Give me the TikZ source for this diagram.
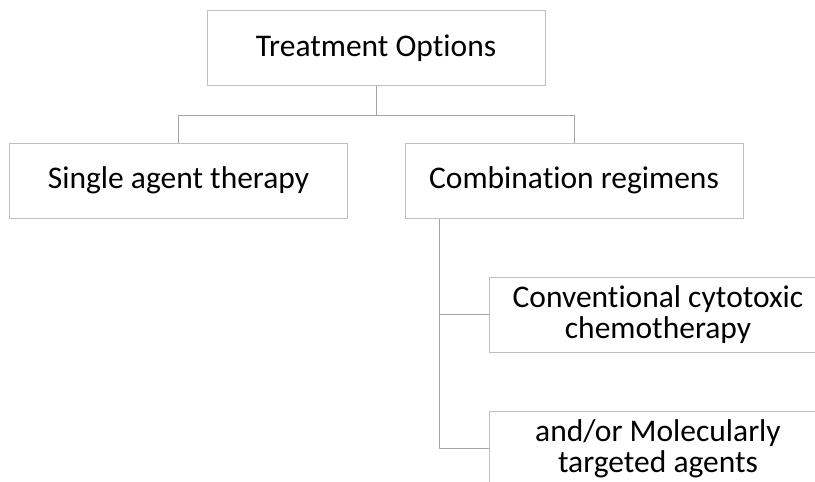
\documentclass[tikz,border=0pt]{standalone}
\usepackage{fontspec}
\setmainfont[Ligatures=NoCommon]{Carlito}
\usetikzlibrary{positioning}
\definecolor{boxgray}{RGB}{191,191,191}
\definecolor{linegray}{RGB}{165,165,165}

\begin{document}
\begin{tikzpicture}[x=1pt,y=-1pt, box/.style={draw=boxgray,line width=1pt,minimum width=338pt,minimum height=75pt,align=center,font=\fontsize{31.5}{31}\selectfont,inner sep=0pt}, link/.style={draw=linegray,line width=1pt}]
\useasboundingbox (0,0) rectangle (815,482);
\clip (0,0) rectangle (815,482);
\node[box] (top) at (376,48) {Treatment Options};
\node[box] (single) at (178.5,180.5) {Single agent therapy};
\node[box] (combo) at (574,180.5) {Combination regimens};
\node[box] (cyto) at (658,314.5) {Conventional cytotoxic\\chemotherapy};
\node[box] (target) at (658,448.5) {and/or Molecularly\\targeted agents};
\coordinate (split) at (376,115);
\coordinate (trunk) at ([xshift=35pt]combo.south west);
\draw[link] (top.south)--(split) -| (single.north); \draw[link] (split) -| (combo.north);
\draw[link] (trunk) |- (cyto.west); \draw[link] (trunk) |- (target.west);
\end{tikzpicture}
\end{document}
